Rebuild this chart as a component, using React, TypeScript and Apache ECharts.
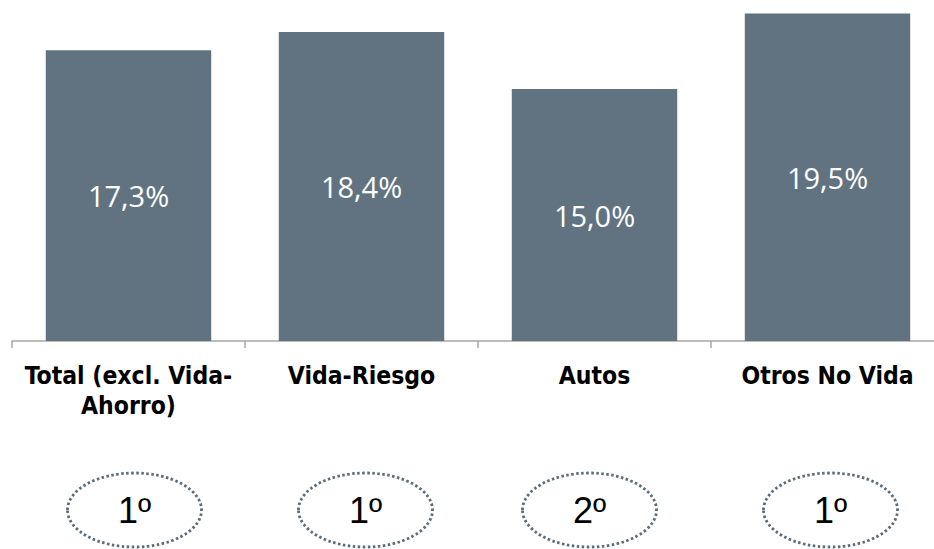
import React, { useEffect, useRef } from "react";
import * as echarts from "echarts";

const categories = ["Total (excl. Vida-\nAhorro)", "Vida-Riesgo", "Autos", "Otros No Vida"];
const values = [17.3, 18.4, 15.0, 19.5];
const valueLabels = ["17,3%", "18,4%", "15,0%", "19,5%"];
const ranks = ["1º", "1º", "2º", "1º"];
const rankOffsets = [6, 4, -5, 3];

export default function App() {
  const ref = useRef<HTMLDivElement>(null);
  useEffect(() => {
    if (!ref.current) return;
    const chart = echarts.init(ref.current, undefined, { renderer: "svg" });
    chart.setOption({
      animation: false,
      backgroundColor: "#ffffff",
      grid: { left: 12, width: 932, top: 5, bottom: 208, containLabel: false, outerBoundsMode: "none" },
      xAxis: {
        type: "category",
        data: categories,
        axisLine: { lineStyle: { color: "#a6a6a6", width: 1.5 } },
        axisTick: { show: true, length: 7, lineStyle: { color: "#a6a6a6", width: 1.5 } },
        axisLabel: {
          color: "#000000",
          fontFamily: "'DejaVu Sans Condensed', 'DejaVu Sans', sans-serif",
          fontWeight: "bold",
          fontSize: 24.5,
          lineHeight: 30,
          margin: 19,
          interval: 0,
        },
      },
      yAxis: {
        type: "value",
        min: 0,
        max: 20,
        show: false,
        splitLine: { show: false },
      },
      series: [
        {
          type: "bar",
          data: values,
          barWidth: "71%",
          itemStyle: { color: "#617381" },
          label: {
            show: true,
            position: "inside",
            color: "#ffffff",
            fontFamily: "'Open Sans', sans-serif",
            fontSize: 29,
            formatter: (p: any) => valueLabels[p.dataIndex],
          },
        },
      ],
    });
    const graphics: any[] = [];
    categories.forEach((c, i) => {
      const px = chart.convertToPixel({ gridIndex: 0 }, [i, 0]) as number[];
      const cx = px[0] + rankOffsets[i];
      const cy = 510;
      graphics.push({
        type: "ellipse",
        shape: { cx, cy, rx: 67, ry: 37 },
        style: { fill: "transparent", stroke: "#5b6b79", lineWidth: 2.8, lineDash: [2.5, 2.5] },
      });
      graphics.push({
        type: "text",
        x: cx,
        y: cy,
        style: {
          text: ranks[i],
          fill: "#000000",
          font: "36px 'Liberation Sans', Arial, sans-serif",
          align: "center",
          verticalAlign: "middle",
        },
      });
    });
    chart.setOption({ graphic: graphics });
    return () => chart.dispose();
  }, []);
  return <div ref={ref} style={{ width: 934, height: 549, position: "fixed", left: 0, top: 0 }} />;
}
